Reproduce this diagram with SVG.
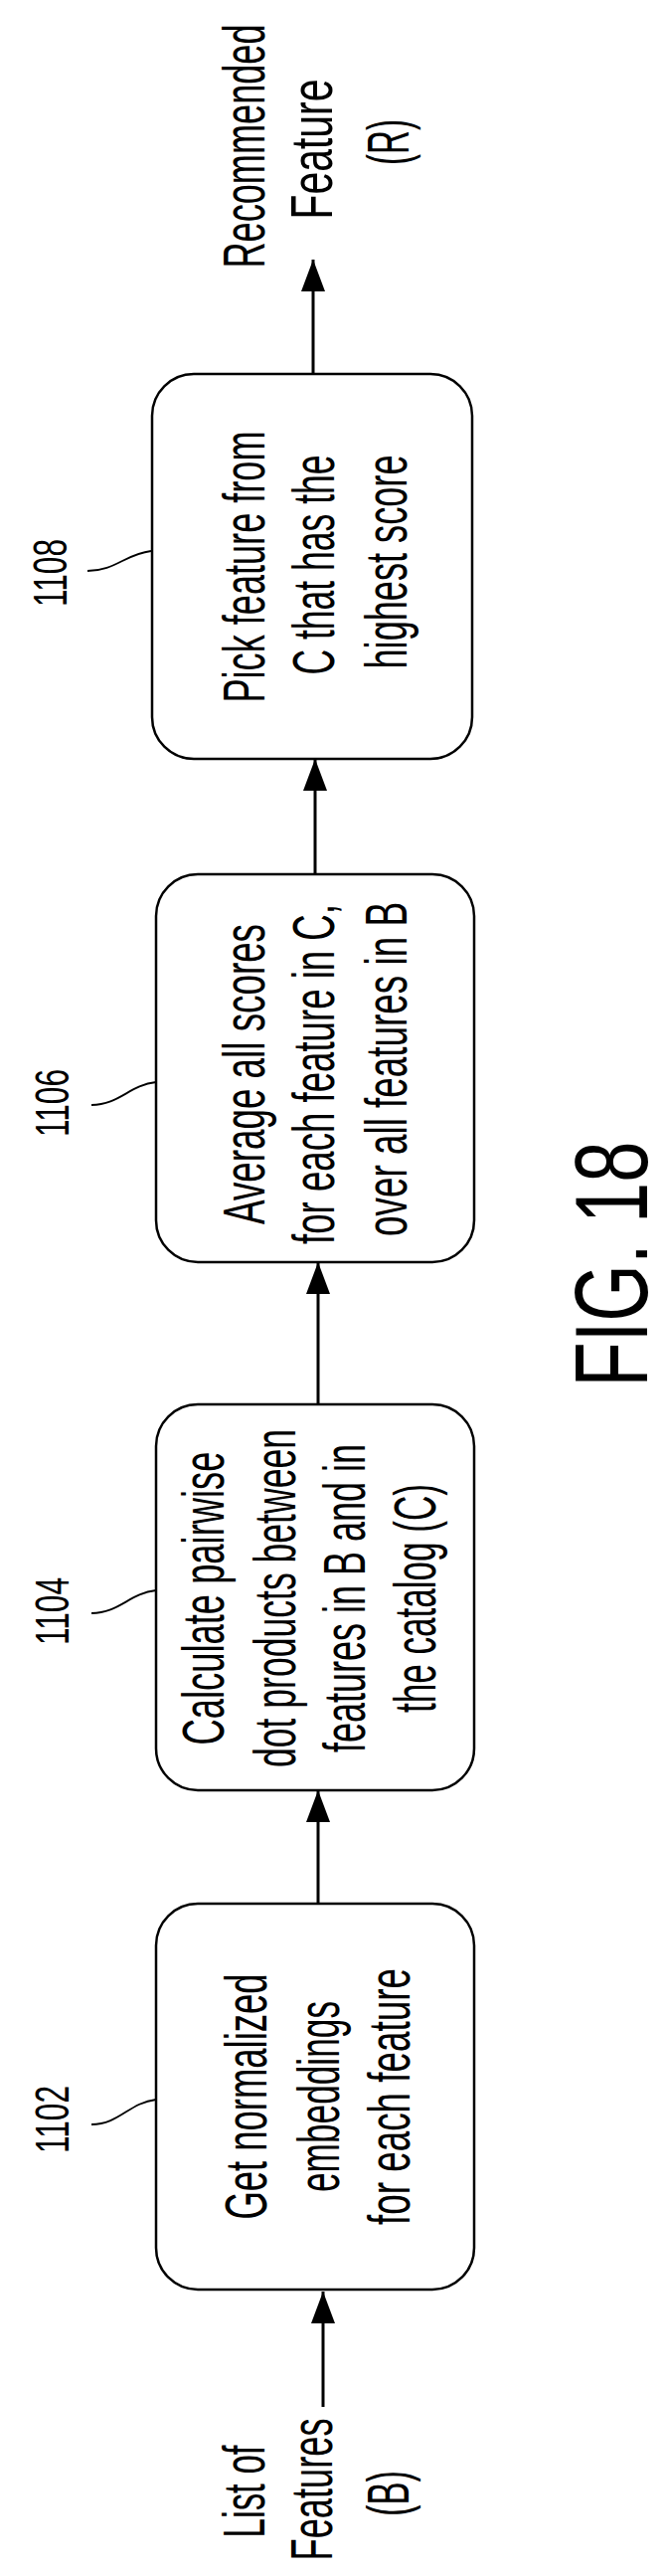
<svg xmlns="http://www.w3.org/2000/svg" width="670" height="2590" viewBox="0 0 670 2590">
<style>
.box{fill:#fff;stroke:#000;stroke-width:2.5}
.t{font-family:"Liberation Sans",Arial,sans-serif;font-size:60px;fill:#000;text-anchor:middle;dominant-baseline:central}
.lbl{font-family:"Liberation Sans",Arial,sans-serif;font-size:48px;fill:#000;text-anchor:middle;dominant-baseline:central}
.fig{font-family:"Liberation Sans",Arial,sans-serif;font-size:104px;fill:#000;text-anchor:middle;dominant-baseline:central}
.ld{fill:none;stroke:#000;stroke-width:1.8}
.cn{stroke:#000;stroke-width:3;marker-end:url(#ah)}
</style>
<defs>
<marker id="ah" markerWidth="32" markerHeight="24" refX="32" refY="12" orient="auto" markerUnits="userSpaceOnUse"><path d="M0,0 L32,12 L0,24 Z" fill="#000"/></marker>
</defs>
<rect width="670" height="2590" fill="#fff"/>
<g id="connectors">
<line class="cn" x1="325" y1="2420" x2="325" y2="2304"/>
<line class="cn" x1="320" y1="1914" x2="320" y2="1800"/>
<line class="cn" x1="320" y1="1412" x2="320" y2="1269"/>
<line class="cn" x1="317" y1="879" x2="317" y2="763"/>
<line class="cn" x1="315" y1="376" x2="315" y2="261"/>
</g>
<g id="input">
<text class="t" transform="translate(245,2505) rotate(-90)" textLength="93" lengthAdjust="spacingAndGlyphs">List of</text>
<text class="t" transform="translate(313,2503) rotate(-90)" textLength="143" lengthAdjust="spacingAndGlyphs">Features</text>
<text class="t" transform="translate(390,2507) rotate(-90)" textLength="46" lengthAdjust="spacingAndGlyphs">(B)</text>
</g>
<g id="n1102">
<rect class="box" x="157" y="1914" width="320" height="388" rx="42"/>
<text class="t" transform="translate(247,2108) rotate(-90)" textLength="247" lengthAdjust="spacingAndGlyphs">Get normalized</text>
<text class="t" transform="translate(320,2108) rotate(-90)" textLength="192" lengthAdjust="spacingAndGlyphs">embeddings</text>
<text class="t" transform="translate(391,2108) rotate(-90)" textLength="258" lengthAdjust="spacingAndGlyphs">for each feature</text>
<text class="lbl" transform="translate(52,2131) rotate(-90)" textLength="68" lengthAdjust="spacingAndGlyphs">1102</text>
<path class="ld" d="M92,2136 C120,2136 130,2114 157,2111"/>
</g>
<g id="n1104">
<rect class="box" x="157" y="1412" width="320" height="388" rx="42"/>
<text class="t" transform="translate(204,1607) rotate(-90)" textLength="295" lengthAdjust="spacingAndGlyphs">Calculate pairwise</text>
<text class="t" transform="translate(276,1607) rotate(-90)" textLength="340" lengthAdjust="spacingAndGlyphs">dot products between</text>
<text class="t" transform="translate(346,1607) rotate(-90)" textLength="310" lengthAdjust="spacingAndGlyphs">features in B and in</text>
<text class="t" transform="translate(417,1607) rotate(-90)" textLength="230" lengthAdjust="spacingAndGlyphs">the catalog (C)</text>
<text class="lbl" transform="translate(52,1620) rotate(-90)" textLength="68" lengthAdjust="spacingAndGlyphs">1104</text>
<path class="ld" d="M92,1622 C120,1622 130,1602 157,1599"/>
</g>
<g id="n1106">
<rect class="box" x="157" y="879" width="320" height="390" rx="42"/>
<text class="t" transform="translate(245,1080) rotate(-90)" textLength="302" lengthAdjust="spacingAndGlyphs">Average all scores</text>
<text class="t" transform="translate(315,1080) rotate(-90)" textLength="342" lengthAdjust="spacingAndGlyphs">for each feature in C,</text>
<text class="t" transform="translate(388,1075) rotate(-90)" textLength="336" lengthAdjust="spacingAndGlyphs">over all features in B</text>
<text class="lbl" transform="translate(52,1109) rotate(-90)" textLength="68" lengthAdjust="spacingAndGlyphs">1106</text>
<path class="ld" d="M92,1111 C120,1111 130,1091 157,1088"/>
</g>
<g id="n1108">
<rect class="box" x="153" y="376" width="322" height="387" rx="42"/>
<text class="t" transform="translate(245,570) rotate(-90)" textLength="273" lengthAdjust="spacingAndGlyphs">Pick feature from</text>
<text class="t" transform="translate(315,568) rotate(-90)" textLength="221" lengthAdjust="spacingAndGlyphs">C that has the</text>
<text class="t" transform="translate(388,565) rotate(-90)" textLength="215" lengthAdjust="spacingAndGlyphs">highest score</text>
<text class="lbl" transform="translate(50,576) rotate(-90)" textLength="68" lengthAdjust="spacingAndGlyphs">1108</text>
<path class="ld" d="M88,574 C116,574 126,557 152,554"/>
</g>
<g id="output">
<text class="t" transform="translate(245,147) rotate(-90)" textLength="245" lengthAdjust="spacingAndGlyphs">Recommended</text>
<text class="t" transform="translate(313,150) rotate(-90)" textLength="141" lengthAdjust="spacingAndGlyphs">Feature</text>
<text class="t" transform="translate(390,143) rotate(-90)" textLength="46" lengthAdjust="spacingAndGlyphs">(R)</text>
</g>
<text class="fig" transform="translate(615,1271) rotate(-90)" textLength="247" lengthAdjust="spacingAndGlyphs">FIG. 18</text>
</svg>
